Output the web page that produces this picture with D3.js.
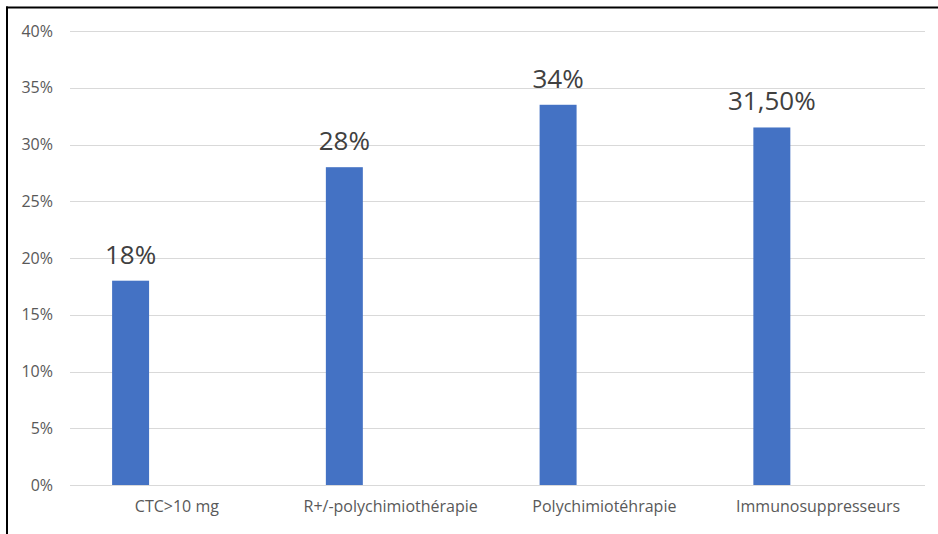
<!DOCTYPE html>
<html>
<head>
<meta charset="utf-8">
<script src="https://cdn.jsdelivr.net/npm/d3@7"></script>
<style>
  html, body { margin: 0; padding: 0; background: #fff; }
  svg { display: block; }
</style>
</head>
<body>
<svg id="chart" width="938" height="534"></svg>
<script>
const categories = ["CTC>10 mg", "R+/-polychimiothérapie", "Polychimiotéhrapie", "Immunosuppresseurs"];
const values = [18, 28, 33.5, 31.5];
const valueLabels = ["18%", "28%", "34%", "31,50%"];
const yTicks = [0, 5, 10, 15, 20, 25, 30, 35, 40];

(function () {
const svg = d3.select("#chart");
const W = 938, H = 534;
const pLeft = 70, pRight = 925, pTop = 31, pBottom = 485;

// frame (top and left edges only)
svg.append("line").attr("x1", 6).attr("x2", W).attr("y1", 7.5).attr("y2", 7.5)
  .attr("stroke", "#000").attr("stroke-width", 2);
svg.append("line").attr("x1", 7).attr("x2", 7).attr("y1", 6.5).attr("y2", H)
  .attr("stroke", "#000").attr("stroke-width", 2);

const x = d3.scaleBand().domain(categories).range([pLeft, pRight]);
const y = d3.scaleLinear().domain([0, 40]).range([pBottom, pTop]);

// gridlines
svg.append("g").selectAll("line").data(yTicks).join("line")
  .attr("x1", pLeft).attr("x2", pRight)
  .attr("y1", d => Math.round(y(d)) + 0.5).attr("y2", d => Math.round(y(d)) + 0.5)
  .attr("stroke", "#d9d9d9").attr("stroke-width", 1);

// y axis labels
const yAxis = d3.axisLeft(y).tickValues(yTicks).tickSize(0).tickPadding(0)
  .tickFormat(d => d + "%");
const ya = svg.append("g").attr("transform", `translate(${pLeft - 17},0)`).call(yAxis);
ya.select(".domain").remove();
ya.selectAll("text").attr("font-family", "'Open Sans', sans-serif")
  .attr("font-size", 16).attr("fill", "#595959");

// x axis labels
const xAxis = d3.axisBottom(x).tickSize(0).tickPadding(0);
const xa = svg.append("g").attr("transform", `translate(0,${pBottom + 16})`).call(xAxis);
xa.select(".domain").remove();
xa.selectAll("text").attr("font-family", "'Open Sans', sans-serif")
  .attr("font-size", 16).attr("fill", "#595959");

// bars (first series of a two-series cluster)
const bw = x.bandwidth();
const barOff = bw * 0.197, barW = bw * 0.173;
svg.append("g").selectAll("rect").data(categories).join("rect")
  .attr("x", (d) => x(d) + barOff)
  .attr("width", barW)
  .attr("y", (d, i) => y(values[i]))
  .attr("height", (d, i) => y(0) - y(values[i]))
  .attr("fill", "#4472c4");

// value labels
svg.append("g").selectAll("text").data(categories).join("text")
  .attr("x", d => x(d) + barOff + barW / 2)
  .attr("y", (d, i) => y(values[i]) - 17)
  .attr("text-anchor", "middle")
  .attr("font-family", "'Open Sans', sans-serif")
  .attr("font-size", 26)
  .attr("fill", "#404040")
  .text((d, i) => valueLabels[i]);
})();
</script>
</body>
</html>
